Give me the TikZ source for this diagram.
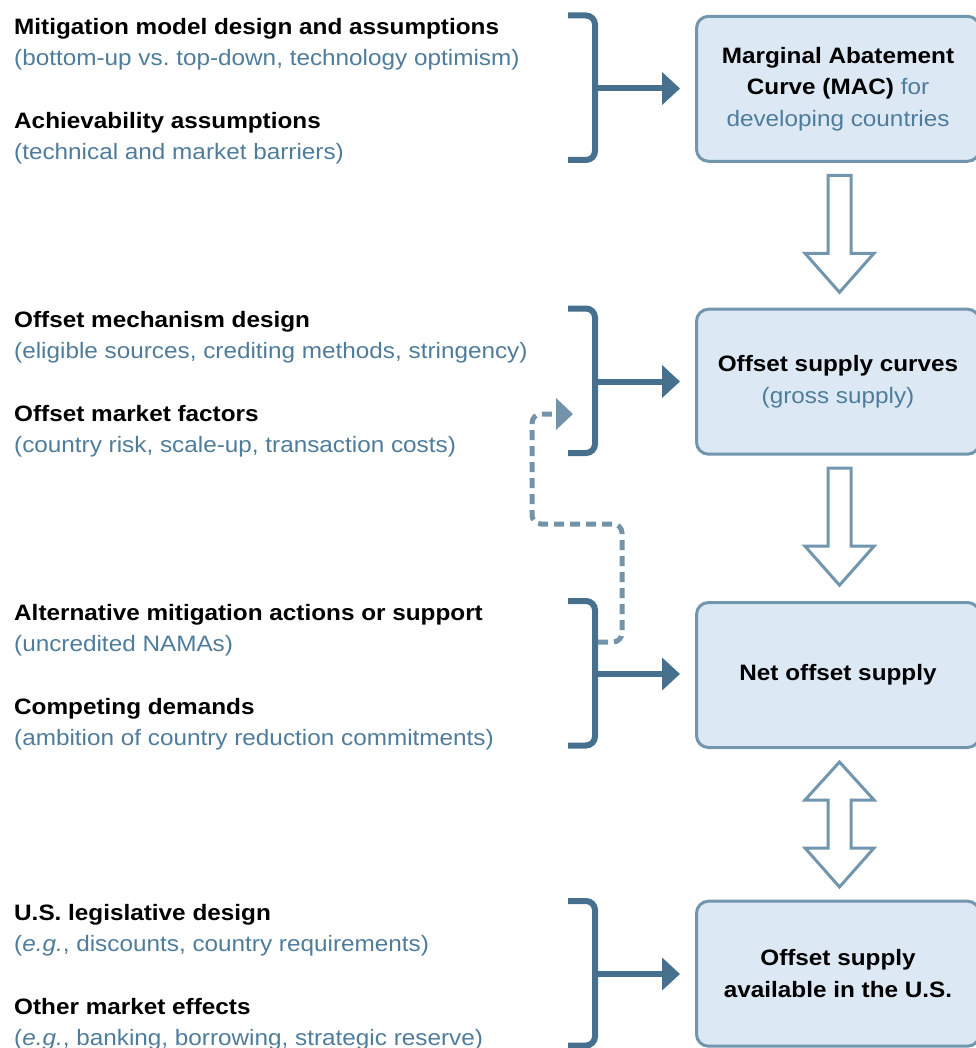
\documentclass[tikz,border=0pt]{standalone}
\usepackage{fontspec}
\setmainfont{Liberation Sans}[FakeStretch=1.09]
\usetikzlibrary{arrows.meta,calc}
\definecolor{bracketblue}{HTML}{46708E}
\definecolor{notegray}{HTML}{4F7C9B}
\definecolor{boxfill}{HTML}{DCE9F5}
\definecolor{boxline}{HTML}{7396AF}
\definecolor{dashblue}{HTML}{7393AB}

\begin{document}
\begin{tikzpicture}[x=1pt,y=-1pt,
  txt/.style={font=\fontsize{22.3}{31.5}\selectfont, inner sep=0pt, anchor=base west},
  head/.style={txt, font=\fontsize{22.3}{31.5}\selectfont\bfseries},
  note/.style={txt, text=notegray},
  stage/.style={draw=boxline, line width=3pt, fill=boxfill, rounded corners=12pt,
    minimum width=283pt, minimum height=145pt, align=center, inner sep=0pt,
    font=\fontsize{22.3}{31.5}\selectfont},
  brace/.style={draw=bracketblue, line width=6pt, rounded corners=9pt},
  feed/.style={draw=bracketblue, line width=6pt, -{Triangle[length=18pt,width=32pt]}, shorten >=15pt},
  hollow/.style={draw=boxline, line width=3pt, fill=white, line join=miter},
  loop/.style={draw=dashblue, line width=5pt, dash pattern=on 10pt off 6pt,
    rounded corners=9pt, -{Triangle[length=17pt,width=31pt]}}
]
\useasboundingbox (0,0) rectangle (975,1048);

% ---- stages of the supply chain ----
\node[stage] (b1) at (838,88.8)
  {\textbf{Marginal Abatement}\\\textbf{Curve (MAC)} \textcolor{notegray}{for}\\\textcolor{notegray}{developing countries}};
\node[stage] (b2) at (838,381.7)
  {\textbf{Offset supply curves}\\\textcolor{notegray}{(gross supply)}};
\node[stage] (b3) at (838,675) {\textbf{Net offset supply}};
\node[stage] (b4) at (838,973.7)
  {\textbf{Offset supply}\\\textbf{available in the U.S.}};

% ---- hollow arrows between stages ----
\draw[hollow] ($(b1.south)+(-10,12.5)$) -- ++(0,78) -- ++(-23,0) -- ++(34.5,39)
  -- ++(34.5,-39) -- ++(-23,0) -- ++(0,-78) -- cycle;
\draw[hollow] ($(b2.south)+(-10,12.5)$) -- ++(0,78) -- ++(-23,0) -- ++(34.5,39)
  -- ++(34.5,-39) -- ++(-23,0) -- ++(0,-78) -- cycle;
\draw[hollow] ($(b3.south)+(1.5,13)$) -- ++(34.5,38) -- ++(-23,0) -- ++(0,48)
  -- ++(23,0) -- ++(-34.5,39) -- ++(-34.5,-39) -- ++(23,0) -- ++(0,-48)
  -- ++(-23,0) -- cycle;

% ---- factor groups ----
\node[head] (f1a) at (14,34.5)  {Mitigation model design and assumptions};
\node[note] (f1b) at (14,65.8)  {(bottom-up vs.\ top-down, technology optimism)};
\node[head] (f1c) at (14,128.5) {Achievability assumptions};
\node[note] (f1d) at (14,159.8) {(technical and market barriers)};

\node[head] (f2a) at (14,327.5) {Offset mechanism design};
\node[note] (f2b) at (14,358.8) {(eligible sources, crediting methods, stringency)};
\node[head] (f2c) at (14,421.5) {Offset market factors};
\node[note] (f2d) at (14,452.8) {(country risk, scale-up, transaction costs)};

\node[head] (f3a) at (14,620)   {Alternative mitigation actions or support};
\node[note] (f3b) at (14,651.3) {(uncredited NAMAs)};
\node[head] (f3c) at (14,714)   {Competing demands};
\node[note] (f3d) at (14,745.3) {(ambition of country reduction commitments)};

\node[head] (f4a) at (14,920)   {U.S.\ legislative design};
\node[note] (f4b) at (14,951.3) {(\textit{e.g.}, discounts, country requirements)};
\node[head] (f4c) at (14,1014)  {Other market effects};
\node[note] (f4d) at (14,1045.3){(\textit{e.g.}, banking, borrowing, strategic reserve)};

% ---- brackets gathering each group ----
\draw[brace] (568,15.5)  -- (595,15.5)  -- (595,160)    -- (568,160);
\draw[brace] (568,308.5) -- (595,308.5) -- (595,453)    -- (568,453);
\draw[brace] (568,601)   -- (595,601)   -- (595,745.5)  -- (568,745.5);
\draw[brace] (568,901)   -- (595,901)   -- (595,1045.5) -- (568,1045.5);

\coordinate (k1) at (595,88.5);
\coordinate (k2) at (595,381.5);
\coordinate (k3) at (595,674);
\coordinate (k4) at (595,974);
\draw[feed] (k1) -- (k1 -| b1.west);
\draw[feed] (k2) -- (k2 -| b2.west);
\draw[feed] (k3) -- (k3 -| b3.west);
\draw[feed] (k4) -- (k4 -| b4.west);

% ---- feedback from alternative actions to market factors ----
\coordinate (loopstart) at (598,642);
\coordinate (loopend) at (573,414);
\draw[loop] (loopstart) -- (622,642) -- (622,524) -- (532,524) -- (532,414) -- (loopend);
\end{tikzpicture}
\end{document}
